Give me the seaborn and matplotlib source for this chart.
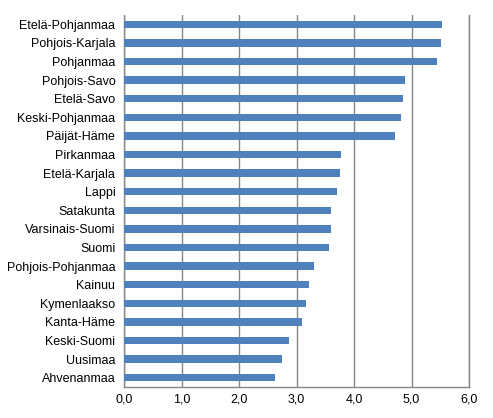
import matplotlib
matplotlib.use("Agg")
import matplotlib.pyplot as plt
import seaborn as sns
import pandas as pd

regions = ["Etelä-Pohjanmaa", "Pohjois-Karjala", "Pohjanmaa", "Pohjois-Savo", "Etelä-Savo",
           "Keski-Pohjanmaa", "Päijät-Häme", "Pirkanmaa", "Etelä-Karjala", "Lappi",
           "Satakunta", "Varsinais-Suomi", "Suomi", "Pohjois-Pohjanmaa", "Kainuu",
           "Kymenlaakso", "Kanta-Häme", "Keski-Suomi", "Uusimaa", "Ahvenanmaa"]
values = [5.53, 5.51, 5.44, 4.88, 4.85, 4.81, 4.71, 3.77, 3.75, 3.70,
          3.59, 3.59, 3.57, 3.31, 3.21, 3.16, 3.10, 2.86, 2.74, 2.63]
xticks = [0, 1, 2, 3, 4, 5, 6]
xticklabels = ["0,0", "1,0", "2,0", "3,0", "4,0", "5,0", "6,0"]

df = pd.DataFrame({"region": regions, "value": values})

sns.set_theme(style="white")
plt.rcParams["font.family"] = ["Liberation Sans", "DejaVu Sans"]

fig = plt.figure(figsize=(4.93, 4.18), dpi=100)
ax = fig.add_axes([0.2522, 0.0742, 0.6991, 0.8899])

sns.barplot(data=df, x="value", y="region", color="#4F81BD", width=0.4,
            saturation=1, linewidth=0, edgecolor="none", ax=ax, zorder=3)

ax.set_xlim(0, 6)
ax.set_ylim(len(regions) - 0.5, -0.5)
ax.set_xticks(xticks)
ax.set_xticklabels(xticklabels)
ax.set_xlabel("")
ax.set_ylabel("")
ax.grid(axis="x", color="#868686", linewidth=1, zorder=0)
ax.grid(axis="y", visible=False)
ax.spines["top"].set_visible(False)
for s in ["left", "bottom", "right"]:
    ax.spines[s].set_color("#868686")
    ax.spines[s].set_linewidth(1)
ax.tick_params(axis="both", length=0, labelsize=9, colors="black")
ax.tick_params(axis="y", pad=6.5)
ax.tick_params(axis="x", pad=5)

fig.savefig("out.png", dpi=100)
